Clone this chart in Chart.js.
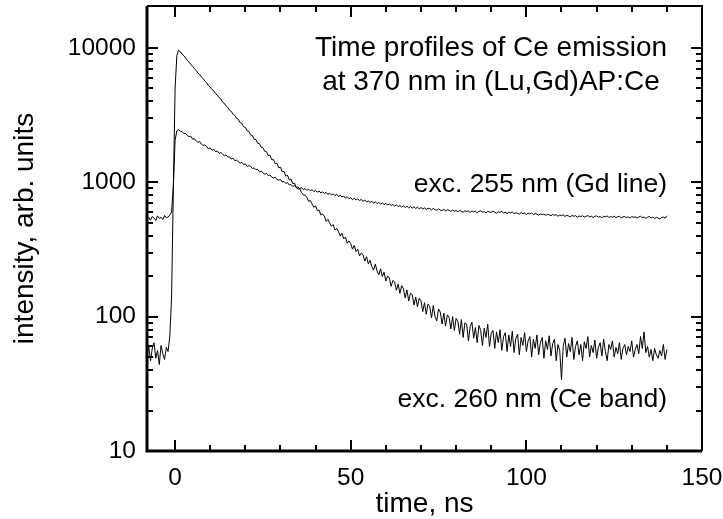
<!DOCTYPE html>
<html><head><meta charset="utf-8">
<script src="https://cdn.jsdelivr.net/npm/chart.js@4/dist/chart.umd.min.js"></script>
<style>html,body{margin:0;padding:0;background:#fff}#wrap{width:723px;height:519px}</style>
</head><body><div id="wrap"><canvas id="c" width="723" height="519"></canvas></div>
<script>
// time axis of the recorded traces (ns): first sample and sampling step
const timeStart = -8;
const timeStep = 0.5;

// exc. 260 nm (Ce band): one row = 5 ns (10 samples)
const ceBand260 = [
  52, 60, 47, 58, 64, 49, 56, 44, 61, 53,
  48, 59, 55, 72, 140, 900, 5000, 8800, 9600, 9350,
  8990, 8740, 8400, 8060, 7830, 7490, 7300, 6990, 6800, 6500,
  6330, 6070, 5910, 5640, 5500, 5230, 5120, 4900, 4790, 4570,
  4450, 4270, 4160, 3960, 3870, 3700, 3610, 3430, 3370, 3200,
  3140, 2990, 2940, 2780, 2740, 2590, 2560, 2410, 2390, 2250,
  2230, 2090, 2080, 1950, 1940, 1820, 1810, 1700, 1690, 1580,
  1590, 1470, 1475, 1370, 1385, 1280, 1295, 1195, 1205, 1110,
  1130, 1040, 1055, 975, 985, 910, 890, 892, 838, 806,
  801, 772, 722, 731, 688, 651, 667, 615, 620, 571,
  580, 560, 511, 530, 497, 470, 486, 441, 453, 431,
  398, 417, 379, 391, 352, 366, 349, 318, 339, 305,
  318, 283, 297, 290, 259, 279, 247, 262, 236, 222,
  246, 218, 205, 227, 199, 214, 184, 201, 194, 168,
  186, 181, 157, 175, 149, 170, 161, 138, 158, 131,
  149, 146, 122, 140, 118, 137, 131, 109, 127, 104,
  124, 119, 98, 121, 100, 93, 114, 108, 88, 106,
  85, 103, 99, 81, 100, 79, 97, 92, 74, 95,
  70, 90, 88, 66, 84, 91, 69, 83, 64, 86,
  79, 61, 82, 70, 88, 60, 75, 79, 58, 77,
  64, 80, 56, 71, 76, 55, 73, 60, 78, 54,
  69, 74, 52, 70, 61, 76, 55, 66, 71, 50,
  68, 58, 73, 52, 64, 70, 49, 66, 57, 72,
  51, 63, 68, 47, 62, 56, 34, 61, 69, 50,
  63, 55, 70, 48, 60, 66, 52, 62, 47, 65,
  58, 71, 50, 61, 54, 67, 49, 59, 64, 51,
  68, 55, 47, 62, 57, 66, 50, 59, 53, 64,
  48, 58, 62, 52, 60, 55, 66, 50, 57, 62,
  53, 71, 58, 77, 54, 60, 50, 57, 47, 58,
  52, 49, 56, 51, 62, 48, 57
];

// exc. 255 nm (Gd line): one row = 5 ns (10 samples)
const gdLine255 = [
  530, 548, 522, 556, 541, 519, 562, 537, 549, 528,
  566, 543, 551, 570, 600, 950, 2050, 2420, 2460, 2400,
  2380, 2300, 2310, 2220, 2190, 2200, 2090, 2110, 2030, 1980,
  2010, 1920, 1880, 1900, 1840, 1770, 1800, 1730, 1760, 1690,
  1710, 1640, 1665, 1630, 1570, 1600, 1540, 1545, 1490, 1510,
  1445, 1465, 1420, 1390, 1410, 1355, 1370, 1310, 1330, 1315,
  1265, 1280, 1240, 1250, 1195, 1210, 1175, 1150, 1165, 1120,
  1135, 1095, 1075, 1090, 1050, 1035, 1050, 1005, 1015, 980,
  995, 955, 962, 930, 948, 915, 922, 895, 912, 880,
  897, 870, 889, 862, 881, 852, 870, 843, 861, 832,
  849, 826, 841, 812, 828, 806, 820, 795, 812, 783,
  801, 776, 790, 762, 781, 755, 768, 742, 763, 738,
  752, 731, 746, 720, 738, 714, 727, 708, 722, 699,
  716, 694, 708, 686, 703, 681, 697, 676, 690, 671,
  684, 664, 679, 659, 672, 654, 668, 649, 664, 645,
  660, 641, 657, 638, 652, 634, 649, 631, 645, 628,
  640, 637, 622, 639, 626, 618, 633, 621, 615, 629,
  612, 624, 618, 606, 621, 609, 616, 603, 619, 608,
  598, 614, 605, 611, 597, 612, 602, 609, 594, 607,
  613, 599, 604, 592, 608, 601, 596, 610, 598, 588,
  603, 596, 607, 591, 599, 585, 597, 590, 601, 584,
  593, 587, 579, 594, 583, 590, 576, 588, 581, 592,
  574, 585, 578, 569, 583, 575, 580, 566, 578, 571,
  563, 576, 568, 574, 559, 570, 564, 572, 557, 567,
  561, 553, 566, 559, 564, 549, 561, 556, 563, 551,
  558, 565, 552, 559, 546, 557, 562, 550, 556, 544,
  558, 553, 561, 547, 555, 549, 560, 545, 554, 558,
  543, 552, 557, 546, 553, 541, 556, 549, 554, 542,
  551, 558, 545, 552, 538, 549, 556, 543, 550, 537,
  548, 541, 533, 546, 551, 540, 563
];

// axis ticks
const xTickValues = [0, 10, 20, 30, 40, 50, 60, 70, 80, 90, 100, 110, 120, 130, 140, 150];
const xLabelValues = [0, 50, 100, 150];
const yTickValues = [10, 20, 30, 40, 50, 60, 70, 80, 90,
                     100, 200, 300, 400, 500, 600, 700, 800, 900,
                     1000, 2000, 3000, 4000, 5000, 6000, 7000, 8000, 9000, 10000];
const yLabelValues = [10, 100, 1000, 10000];

// texts
const titleLines = ['Time profiles of Ce emission', 'at 370 nm in (Lu,Gd)AP:Ce'];
const label255 = 'exc. 255 nm (Gd line)';
const label260 = 'exc. 260 nm (Ce band)';
const xTitle = 'time, ns';
const yTitle = 'intensity, arb. units';

const FONT = '"Liberation Sans", Arial, Helvetica, sans-serif';

function toPoints(arr) {
  return arr.map((v, i) => ({ x: timeStart + i * timeStep, y: v }));
}

const framePlugin = {
  id: 'framePlugin',
  afterDraw(chart) {
    const { ctx, scales } = chart;
    const x = scales.x, y = scales.y;
    const L = x.getPixelForValue(x.min), R = x.getPixelForValue(x.max);
    const T = y.getPixelForValue(y.max), B = y.getPixelForValue(y.min);
    ctx.save();
    ctx.strokeStyle = '#000';
    ctx.lineCap = 'butt';
    ctx.lineWidth = 3;
    ctx.beginPath();
    ctx.moveTo(L, T); ctx.lineTo(L, B); ctx.lineTo(R, B);
    ctx.stroke();
    ctx.lineWidth = 2;
    ctx.beginPath();
    ctx.moveTo(L, T); ctx.lineTo(R, T); ctx.lineTo(R, B);
    ctx.stroke();
    ctx.lineWidth = 2;
    ctx.beginPath();
    xTickValues.forEach(v => {
      const px = Math.round(x.getPixelForValue(v));
      const len = xLabelValues.includes(v) ? 11 : 6;
      ctx.moveTo(px, B); ctx.lineTo(px, B - len);
      ctx.moveTo(px, T); ctx.lineTo(px, T + len);
    });
    yTickValues.forEach(v => {
      const py = Math.round(y.getPixelForValue(v));
      const len = yLabelValues.includes(v) ? 11 : 6;
      ctx.moveTo(L, py); ctx.lineTo(L + len, py);
      ctx.moveTo(R, py); ctx.lineTo(R - len, py);
    });
    ctx.stroke();
    ctx.fillStyle = '#000';
    ctx.textBaseline = 'alphabetic';
    ctx.font = '28px ' + FONT;
    ctx.textAlign = 'center';
    ctx.fillText(titleLines[0], 491, 56);
    ctx.fillText(titleLines[1], 491, 90);
    ctx.font = '26.5px ' + FONT;
    ctx.textAlign = 'right';
    ctx.fillText(label255, 667, 192);
    ctx.fillText(label260, 667, 407);
    ctx.restore();
  }
};

new Chart(document.getElementById('c'), {
  type: 'line',
  data: {
    datasets: [
      { label: label255, data: toPoints(gdLine255), borderColor: '#000', borderWidth: 1, pointRadius: 0, tension: 0, fill: false },
      { label: label260, data: toPoints(ceBand260), borderColor: '#000', borderWidth: 1, pointRadius: 0, tension: 0, fill: false }
    ]
  },
  options: {
    responsive: false,
    animation: false,
    devicePixelRatio: 1,
    layout: { padding: { top: 6, right: 21, left: 0, bottom: 0 } },
    plugins: { legend: { display: false }, tooltip: { enabled: false } },
    scales: {
      x: {
        type: 'linear', min: -8, max: 150,
        grid: { display: false, drawTicks: false },
        border: { display: false },
        afterBuildTicks: s => { s.ticks = xTickValues.map(v => ({ value: v })); },
        afterFit: s => { s.height = 68; s.paddingLeft = 0; s.paddingRight = 0; },
        ticks: {
          autoSkip: false, maxRotation: 0, minRotation: 0, padding: 13, color: '#000',
          font: { family: FONT, size: 24.5 },
          callback: v => xLabelValues.includes(v) ? String(v) : ''
        },
        title: { display: true, text: xTitle, color: '#000', font: { family: FONT, size: 28, lineHeight: 1 }, padding: { top: 0, bottom: 1 } }
      },
      y: {
        type: 'logarithmic', min: 10, max: 20500,
        grid: { display: false, drawTicks: false },
        border: { display: false },
        afterBuildTicks: s => { s.ticks = yTickValues.map(v => ({ value: v })); },
        afterFit: s => { s.width = 147; s.paddingTop = 0; s.paddingBottom = 0; },
        ticks: {
          autoSkip: false, padding: 11, color: '#000',
          font: { family: FONT, size: 24.5 },
          callback: v => yLabelValues.includes(v) ? String(v) : ''
        },
        title: { display: true, text: yTitle, color: '#000', font: { family: FONT, size: 28 }, padding: { top: 8, bottom: 0 } }
      }
    }
  },
  plugins: [framePlugin]
});
</script>
</body></html>
